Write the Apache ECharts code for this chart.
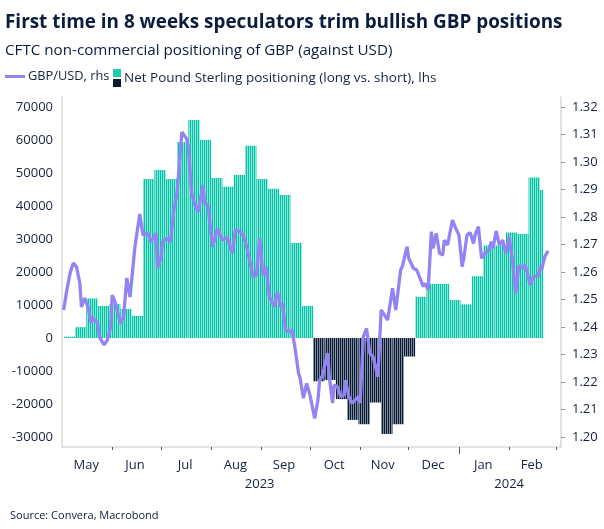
<!doctype html>
<html lang="en">
<head>
<meta charset="UTF-8">
<title>GBP positioning</title>
<script src="https://cdn.jsdelivr.net/npm/echarts@6/dist/echarts.min.js"></script>
<style>
  html, body { margin: 0; padding: 0; background: #fff; }
  #main { width: 604px; height: 529px; }
</style>
</head>
<body>
<div id="main"></div>
<script>
// CFTC weekly net non-commercial GBP positions (contracts), week start dates
var weekStarts = ['2023-05-02','2023-05-09','2023-05-16','2023-05-23','2023-05-30','2023-06-06','2023-06-13',
  '2023-06-20','2023-06-27','2023-07-04','2023-07-11','2023-07-18','2023-07-25','2023-08-01','2023-08-08',
  '2023-08-15','2023-08-22','2023-08-29','2023-09-05','2023-09-12','2023-09-19','2023-09-26','2023-10-03',
  '2023-10-10','2023-10-17','2023-10-24','2023-10-31','2023-11-07','2023-11-14','2023-11-21','2023-11-28',
  '2023-12-05','2023-12-12','2023-12-19','2023-12-26','2024-01-02','2024-01-09','2024-01-16','2024-01-23',
  '2024-01-30','2024-02-06','2024-02-13','2024-02-20'];
var netPositions = [400, 3300, 12000, 9700, 10300, 8800, 6700,
  48200, 50900, 48200, 59400, 66000, 60000, 48500, 45800,
  49400, 58200, 48200, 45200, 43300, 28800, 9700, -13100,
  -12700, -18500, -24800, -26100, -19500, -29100, -26100, -5600,
  12500, 16400, 16400, 11500, 10200, 18700, 28000, 28000,
  32000, 31500, 48600, 44800];
var lastObs = '2024-02-22';

// GBP/USD
var fxDates = ['2023-05-02','2023-05-04','2023-05-06','2023-05-08','2023-05-10','2023-05-12','2023-05-13','2023-05-15',
  '2023-05-17','2023-05-19','2023-05-20','2023-05-23','2023-05-24','2023-05-27','2023-05-29','2023-05-31',
  '2023-06-01','2023-06-03','2023-06-06','2023-06-08','2023-06-10','2023-06-12','2023-06-15','2023-06-18',
  '2023-06-20','2023-06-23','2023-06-25','2023-06-28','2023-06-29','2023-07-01','2023-07-02','2023-07-05',
  '2023-07-07','2023-07-09','2023-07-11','2023-07-14','2023-07-15','2023-07-17','2023-07-18','2023-07-20',
  '2023-07-22','2023-07-24','2023-07-27','2023-07-28','2023-07-30','2023-08-02','2023-08-05','2023-08-08',
  '2023-08-11','2023-08-14','2023-08-16','2023-08-19','2023-08-21','2023-08-23','2023-08-27','2023-08-29',
  '2023-08-31','2023-09-02','2023-09-04','2023-09-06','2023-09-09','2023-09-11','2023-09-13','2023-09-14',
  '2023-09-16','2023-09-18','2023-09-20','2023-09-22','2023-09-24','2023-09-25','2023-09-27','2023-09-29',
  '2023-10-01','2023-10-04','2023-10-06','2023-10-07','2023-10-09','2023-10-10','2023-10-12','2023-10-13',
  '2023-10-15','2023-10-16','2023-10-18','2023-10-20','2023-10-22','2023-10-23','2023-10-25','2023-10-27',
  '2023-10-29','2023-10-31','2023-11-01','2023-11-03','2023-11-05','2023-11-07','2023-11-09','2023-11-12',
  '2023-11-14','2023-11-16','2023-11-18','2023-11-21','2023-11-23','2023-11-26','2023-11-27','2023-11-30',
  '2023-12-01','2023-12-04','2023-12-06','2023-12-08','2023-12-10','2023-12-11','2023-12-13','2023-12-15',
  '2023-12-16','2023-12-18','2023-12-20','2023-12-22','2023-12-23','2023-12-25','2023-12-28','2023-12-30',
  '2024-01-01','2024-01-03','2024-01-04','2024-01-06','2024-01-08','2024-01-10','2024-01-11','2024-01-13',
  '2024-01-15','2024-01-17','2024-01-19','2024-01-21','2024-01-22','2024-01-24','2024-01-26','2024-01-28',
  '2024-01-30','2024-02-01','2024-02-03','2024-02-05','2024-02-07','2024-02-09','2024-02-11','2024-02-14',
  '2024-02-16','2024-02-19','2024-02-20','2024-02-21','2024-02-23','2024-02-25'];
var gbpusd = [1.2462,1.2535,1.2596,1.2633,1.2618,1.2560,1.2473,1.2505,
  1.2473,1.2415,1.2433,1.2415,1.2364,1.2335,1.2353,1.2400,
  1.2516,1.2487,1.2415,1.2436,1.2578,1.2509,1.2691,1.2811,
  1.2735,1.2742,1.2709,1.2742,1.2615,1.2651,1.2709,1.2724,
  1.2709,1.2825,1.2887,1.3109,1.3116,1.3084,1.3055,1.2887,
  1.2844,1.2818,1.2916,1.2851,1.2844,1.2692,1.2759,1.2716,
  1.2726,1.2668,1.2753,1.2747,1.2731,1.2692,1.2583,1.2589,
  1.2723,1.2589,1.2619,1.2510,1.2474,1.2528,1.2474,1.2486,
  1.2389,1.2383,1.2389,1.2316,1.2232,1.2213,1.2141,1.2195,
  1.2153,1.2068,1.2135,1.2207,1.2225,1.2256,1.2304,1.2219,
  1.2123,1.2189,1.2183,1.2147,1.2153,1.2207,1.2147,1.2123,
  1.2135,1.2147,1.2123,1.2365,1.2395,1.2304,1.2292,1.2219,
  1.2462,1.2444,1.2425,1.2541,1.2462,1.2607,1.2619,1.2692,
  1.2650,1.2613,1.2607,1.2577,1.2547,1.2559,1.2535,1.2747,
  1.2686,1.2741,1.2668,1.2662,1.2716,1.2698,1.2789,1.2759,
  1.2735,1.2619,1.2650,1.2735,1.2743,1.2704,1.2735,1.2765,
  1.2650,1.2668,1.2674,1.2710,1.2686,1.2749,1.2698,1.2716,
  1.2668,1.2728,1.2644,1.2523,1.2625,1.2613,1.2625,1.2553,
  1.2583,1.2585,1.2619,1.2607,1.2656,1.2677];

// axis labels
var leftTicks = [-30000,-20000,-10000,0,10000,20000,30000,40000,50000,60000,70000];
var rightTicks = [1.20,1.21,1.22,1.23,1.24,1.25,1.26,1.27,1.28,1.29,1.30,1.31,1.32];
var monthLabels = ['May','Jun','Jul','Aug','Sep','Oct','Nov','Dec','Jan','Feb'];
var monthMids = ['2023-05-16','2023-06-15','2023-07-16','2023-08-16','2023-09-15','2023-10-16','2023-11-15','2023-12-16','2024-01-16','2024-02-15'];
var monthStarts = ['2023-06-01','2023-07-01','2023-08-01','2023-09-01','2023-10-01','2023-11-01','2023-12-01','2024-02-01','2024-03-01'];
var yearLabels = ['2023','2024'];
var yearMids = ['2023-08-31','2024-02-01'];
var yearStarts = ['2024-01-01'];

var ink = '#14233f';
var font = '"Open Sans", "Noto Sans", sans-serif';

function ts(s) { return +new Date(s.replace(/-/g, '/')); }

function stripes(a, b) {
	var c = document.createElement('canvas');
	c.width = 2; c.height = 2;
	var g = c.getContext('2d');
	g.fillStyle = a; g.fillRect(0, 0, 1, 2);
	g.fillStyle = b; g.fillRect(1, 0, 1, 2);
	return { image: c, repeat: 'repeat' };
}
var tealFill = stripes('#00c4a6', '#8ae5d6');
var navyFill = stripes('#0b1a30', '#788a9c');

var endTs = ts(lastObs);
var barData = weekStarts.map(function (d, i) { return [ts(d), netPositions[i]]; });
var lineData = fxDates.map(function (d, i) { return [ts(d), gbpusd[i]]; });

var midTs = monthMids.map(ts);
var yearTs = yearMids.map(ts);
var xMin = ts('2023-05-01'), xMax = ts('2024-03-04');

var myChart = echarts.init(document.getElementById('main'));

var legendIcon = new echarts.graphic.LinearGradient(0, 0, 0, 1, [
	{ offset: 0, color: '#1fcbb0' }, { offset: 0.45, color: '#1fcbb0' },
	{ offset: 0.45, color: '#ffffff' }, { offset: 0.55, color: '#ffffff' },
	{ offset: 0.55, color: '#0b1a30' }, { offset: 1, color: '#0b1a30' }
]);

var option = {
	animation: false,
	textStyle: { fontFamily: font },
	title: [
		{ text: 'First time in 8 weeks speculators trim bullish GBP positions', left: 0, top: 7,
		  textStyle: { fontFamily: font, fontSize: 18.9, fontWeight: 'bold', color: '#0a1d3f', lineHeight: 22 } },
		{ text: 'CFTC non-commercial positioning of GBP (against USD)', left: 0, top: 37,
		  textStyle: { fontFamily: font, fontSize: 15.2, fontWeight: 'normal', color: '#0a1d3f', lineHeight: 18 } },
		{ text: 'Source: Convera, Macrobond', left: 5, top: 504,
		  textStyle: { fontFamily: font, fontSize: 11, fontWeight: 'normal', color: '#0a1d3f', lineHeight: 14 } }
	],
	legend: [
		{ data: ['GBP/USD, rhs'], left: 5, top: 70, padding: 0, icon: 'rect', itemWidth: 20, itemHeight: 3, itemGap: 0,
		  textStyle: { fontSize: 12.8, color: ink, padding: [0, 0, 0, -2] } },
		{ data: [{ name: 'Net Pound Sterling positioning (long vs. short), lhs', itemStyle: { color: legendIcon } }],
		  left: 113, top: 69, padding: 0, icon: 'rect', itemWidth: 8, itemHeight: 18,
		  textStyle: { fontSize: 13.5, color: ink, padding: [0, 0, 0, -2] } }
	],
	grid: { left: 62, right: 43, top: 97, bottom: 82 },
	xAxis: [
		{ type: 'value', min: xMin, max: xMax,
		  axisLine: { onZero: false, lineStyle: { color: '#d9d9d9', width: 1.5 } },
		  axisTick: { show: true, customValues: monthStarts.map(ts), length: 3, lineStyle: { color: '#555' } },
		  axisLabel: { customValues: midTs, margin: 12, color: ink, fontSize: 13,
		    formatter: function (v) { return monthLabels[midTs.indexOf(+v)]; } },
		  splitLine: { show: false } },
		{ type: 'value', min: xMin, max: xMax, position: 'bottom',
		  axisLine: { show: false, onZero: false },
		  axisTick: { show: true, customValues: yearStarts.map(ts), length: 7, lineStyle: { color: '#555' } },
		  axisLabel: { customValues: yearTs, margin: 31, color: ink, fontSize: 13,
		    formatter: function (v) { return yearLabels[yearTs.indexOf(+v)]; } },
		  splitLine: { show: false } }
	],
	yAxis: [
		{ type: 'value', position: 'left', min: -33000, max: 73000,
		  axisLine: { show: true, lineStyle: { color: '#d9d9d9', width: 1.5 } },
		  axisTick: { show: false }, splitLine: { show: false },
		  axisLabel: { customValues: leftTicks, margin: 9, color: ink, fontSize: 13,
		    formatter: function (v) { return String(Math.round(v)); } } },
		{ type: 'value', position: 'right', min: 1.19636, max: 1.32364,
		  axisLine: { show: true, lineStyle: { color: '#d9d9d9', width: 1.5 } },
		  axisTick: { show: true, customValues: rightTicks, length: 4, lineStyle: { color: '#999' } },
		  splitLine: { show: false },
		  axisLabel: { customValues: rightTicks, margin: 11, color: ink, fontSize: 13,
		    formatter: function (v) { return (+v).toFixed(2); } } }
	],
	series: [
		{
			name: 'Net Pound Sterling positioning (long vs. short), lhs',
			type: 'custom',
			xAxisIndex: 0, yAxisIndex: 0,
			itemStyle: { color: legendIcon },
			encode: { x: 0, y: 1 },
			data: barData,
			clip: true,
			renderItem: function (params, api) {
				var start = api.value(0), val = api.value(1);
				var end = Math.min(start + 7 * 864e5, endTs);
				var p0 = api.coord([start, 0]);
				var p1 = api.coord([end, val]);
				return {
					type: 'rect',
					shape: { x: p0[0], y: Math.min(p0[1], p1[1]), width: p1[0] - p0[0], height: Math.abs(p1[1] - p0[1]) },
					style: { fill: val >= 0 ? tealFill : navyFill }
				};
			},
			z: 2
		},
		{
			name: 'GBP/USD, rhs',
			type: 'line',
			xAxisIndex: 0, yAxisIndex: 1,
			data: lineData,
			showSymbol: false,
			itemStyle: { color: '#9384f3' },
			lineStyle: { color: '#9384f3', width: 3.3 },
			z: 3
		}
	]
};
myChart.setOption(option);
</script>
</body>
</html>
